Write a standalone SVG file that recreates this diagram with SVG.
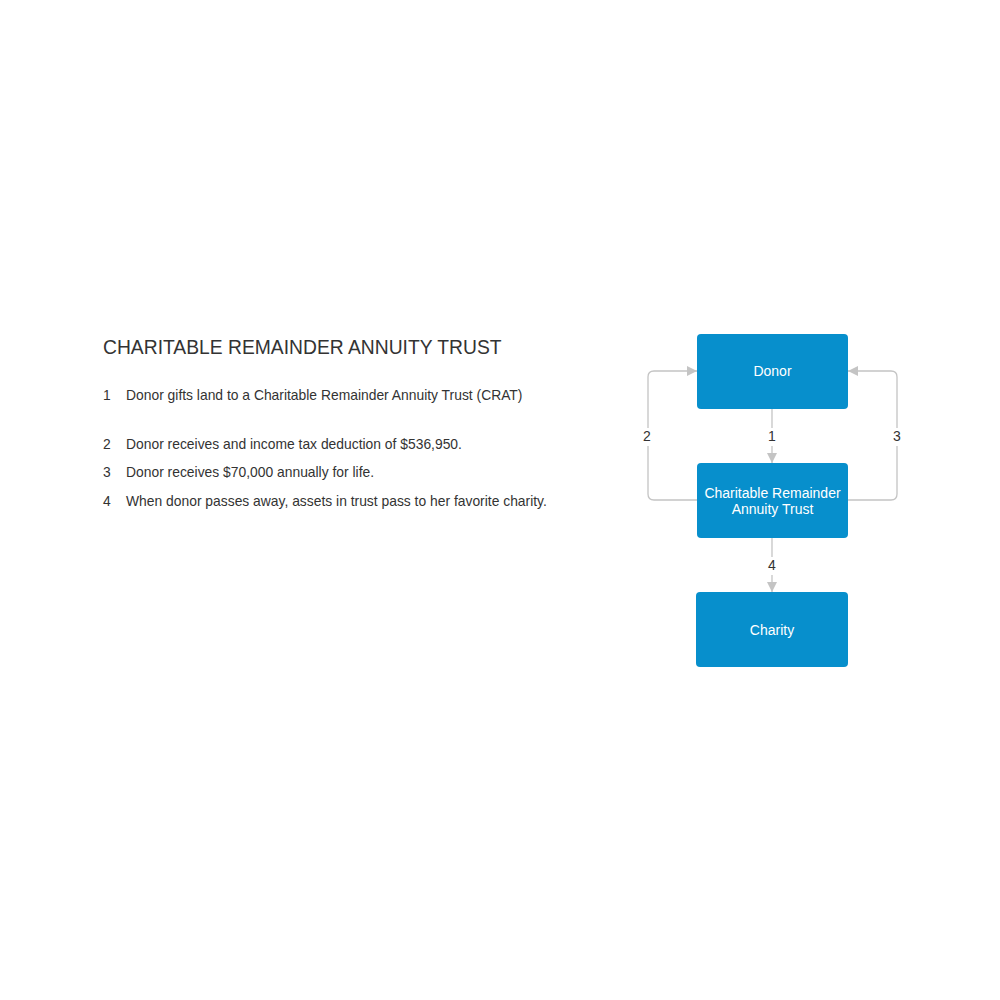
<svg xmlns="http://www.w3.org/2000/svg" width="1000" height="1000" viewBox="0 0 1000 1000">
<style>
.node{fill:#078fcc;}
.nt{font-family:"Liberation Sans",Arial,sans-serif;font-size:14px;fill:#ffffff;text-anchor:middle;}
.edge{fill:none;stroke:#c4c4c4;stroke-width:1.3;}
.el{font-family:"Liberation Sans",Arial,sans-serif;font-size:14px;fill:#333333;text-anchor:middle;}
.txt{font-family:"Liberation Sans",Arial,sans-serif;font-size:13.87px;fill:#333333;}
.title{font-family:"Liberation Sans",Arial,sans-serif;font-size:19.3px;fill:#333333;}
</style>
<defs>
<marker id="arr" viewBox="0 0 10 10" refX="10" refY="5" markerWidth="10" markerHeight="10" markerUnits="userSpaceOnUse" orient="auto">
<path d="M0,0 L10,5 L0,10 z" fill="#c4c4c4"/>
</marker>
</defs>
<rect width="1000" height="1000" fill="#ffffff"/>
<g id="legend">
<text class="title" x="103" y="354">CHARITABLE REMAINDER ANNUITY TRUST</text>
<text class="txt" x="103" y="400">1</text>
<text class="txt" x="126" y="400">Donor gifts land to a Charitable Remainder Annuity Trust (CRAT)</text>
<text class="txt" x="103" y="449">2</text>
<text class="txt" x="126" y="449">Donor receives and income tax deduction of $536,950.</text>
<text class="txt" x="103" y="477">3</text>
<text class="txt" x="126" y="477">Donor receives $70,000 annually for life.</text>
<text class="txt" x="103" y="506">4</text>
<text class="txt" x="126" y="506">When donor passes away, assets in trust pass to her favorite charity.</text>
</g>
<g id="connectors">
<path class="edge" d="M772,409 L772,463" marker-end="url(#arr)"/>
<path class="edge" d="M697,500 L654,500 Q648,500 648,494 L648,377 Q648,371 654,371 L697,371" marker-end="url(#arr)"/>
<path class="edge" d="M848,500 L891,500 Q897,500 897,494 L897,377 Q897,371 891,371 L848,371" marker-end="url(#arr)"/>
<path class="edge" d="M772,538 L772,592" marker-end="url(#arr)"/>
<rect x="764" y="428" width="16" height="18" fill="#ffffff"/>
<text class="el" x="772" y="441">1</text>
<rect x="639" y="428" width="16" height="18" fill="#ffffff"/>
<text class="el" x="647" y="441">2</text>
<rect x="889" y="428" width="16" height="18" fill="#ffffff"/>
<text class="el" x="897" y="441">3</text>
<rect x="764" y="557" width="16" height="18" fill="#ffffff"/>
<text class="el" x="772" y="570">4</text>
</g>
<g id="donor">
<rect class="node" x="697" y="334" width="151" height="75" rx="4"/>
<text class="nt" x="772.5" y="376">Donor</text>
</g>
<g id="crat">
<rect class="node" x="697" y="463" width="151" height="75" rx="4"/>
<text class="nt" x="772.5" y="498">Charitable Remainder</text>
<text class="nt" x="772.5" y="514">Annuity Trust</text>
</g>
<g id="charity">
<rect class="node" x="696" y="592" width="152" height="75" rx="4"/>
<text class="nt" x="772" y="635">Charity</text>
</g>
</svg>
